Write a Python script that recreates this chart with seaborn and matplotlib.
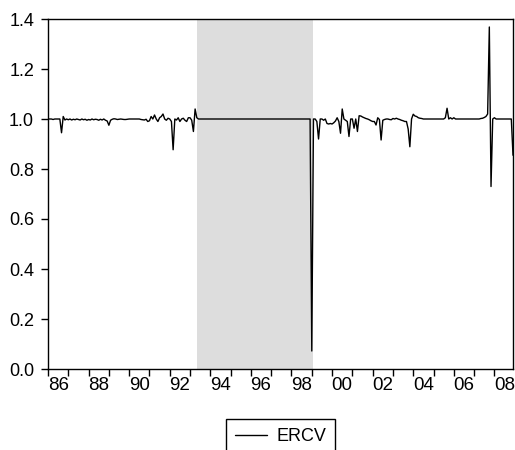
import numpy as np
import pandas as pd
import matplotlib
matplotlib.use("Agg")
import matplotlib.pyplot as plt
import seaborn as sns

# monthly ERCV values, Jan..Dec of each year
ercv_1986 = [1.000, 1.000, 1.000, 0.998, 1.000, 1.000, 1.000, 1.000, 0.945, 1.010, 0.996, 1.000]
ercv_1987 = [0.997, 1.000, 0.996, 0.999, 0.997, 1.000, 0.998, 0.996, 1.000, 0.997, 0.999, 0.995]
ercv_1988 = [0.998, 0.996, 1.000, 0.997, 0.999, 0.998, 0.995, 0.999, 0.996, 1.000, 0.995, 0.992]
ercv_1989 = [0.975, 0.995, 0.999, 1.001, 1.000, 0.998, 0.999, 1.000, 0.999, 0.998, 0.998, 0.999]
ercv_1990 = [1.000, 1.000, 1.000, 1.000, 1.000, 1.000, 1.000, 0.998, 0.997, 0.996, 0.999, 0.990]
ercv_1991 = [0.993, 1.010, 1.000, 1.016, 1.000, 0.990, 1.005, 1.010, 1.020, 1.000, 0.995, 1.003]
ercv_1992 = [1.000, 0.990, 0.877, 1.000, 0.996, 1.005, 0.990, 1.000, 1.003, 0.995, 0.990, 1.005]
ercv_1993 = [1.005, 0.995, 0.950, 1.040, 1.005, 1.000, 1.000, 1.000, 1.000, 1.000, 1.000, 1.000]
ercv_1994 = [1.000] * 12
ercv_1995 = [1.000] * 12
ercv_1996 = [1.000] * 12
ercv_1997 = [1.000] * 12
ercv_1998 = [1.000] * 12
ercv_1999 = [0.072, 1.000, 1.000, 0.990, 0.920, 1.000, 1.000, 0.995, 1.000, 0.982, 0.980, 0.982]
ercv_2000 = [0.980, 0.985, 0.992, 1.005, 0.990, 0.943, 1.040, 1.000, 0.995, 0.990, 0.930, 1.000]
ercv_2001 = [1.000, 0.963, 1.000, 0.950, 1.013, 1.012, 1.008, 1.005, 1.002, 1.000, 0.997, 0.993]
ercv_2002 = [0.990, 0.990, 0.976, 1.005, 0.998, 0.916, 0.995, 0.998, 1.000, 1.000, 0.998, 0.997]
ercv_2003 = [1.002, 1.000, 1.003, 1.000, 0.998, 0.995, 0.993, 0.990, 0.990, 0.960, 0.889, 1.000]
ercv_2004 = [1.019, 1.012, 1.010, 1.005, 1.003, 1.002, 1.000, 1.000, 1.000, 1.000, 1.000, 1.000]
ercv_2005 = [1.000, 1.000, 1.000, 1.000, 1.000, 1.000, 1.000, 1.005, 1.043, 1.000, 1.005, 1.000]
ercv_2006 = [1.005, 1.000, 1.000, 1.000, 1.000, 1.000, 1.000, 1.000, 1.000, 1.000, 1.000, 1.000]
ercv_2007 = [1.000, 1.000, 1.000, 1.000, 1.002, 1.003, 1.006, 1.010, 1.020, 1.368, 0.730, 1.000]
ercv_2008 = [1.005, 1.000, 1.000, 1.000, 1.000, 1.000, 1.000, 1.000, 1.000, 1.000, 1.000, 0.855]

years = list(range(1986, 2009))
series = [ercv_1986, ercv_1987, ercv_1988, ercv_1989, ercv_1990, ercv_1991, ercv_1992,
          ercv_1993, ercv_1994, ercv_1995, ercv_1996, ercv_1997, ercv_1998, ercv_1999,
          ercv_2000, ercv_2001, ercv_2002, ercv_2003, ercv_2004, ercv_2005, ercv_2006,
          ercv_2007, ercv_2008]

# shaded period (May 1993 - Feb 1999)
shade_start = 1993 + 4 / 12
shade_end = 1999 + 1 / 12

year_labels = ["86", "88", "90", "92", "94", "96", "98", "00", "02", "04", "06", "08"]
label_years = [1986, 1988, 1990, 1992, 1994, 1996, 1998, 2000, 2002, 2004, 2006, 2008]
y_ticks = [0.0, 0.2, 0.4, 0.6, 0.8, 1.0, 1.2, 1.4]

rows = []
for yr, vals in zip(years, series):
    for m, v in enumerate(vals):
        rows.append({"date": yr + m / 12, "ERCV": v})
df = pd.DataFrame(rows)

sns.set_style("ticks")
plt.rcParams['font.family'] = ['Liberation Sans', 'DejaVu Sans']
plt.rcParams['text.color'] = 'black'
plt.rcParams['xtick.color'] = 'black'
plt.rcParams['ytick.color'] = 'black'
plt.rcParams['xtick.labelcolor'] = 'black'
plt.rcParams['ytick.labelcolor'] = 'black'

fig = plt.figure(figsize=(5.15, 4.5), dpi=100)
ax = fig.add_axes([48 / 515, 1 - 369 / 450, 465 / 515, 350 / 450])

ax.axvspan(shade_start, shade_end, color="#dddddd", lw=0, zorder=0)
sns.lineplot(data=df, x="date", y="ERCV", color="black", lw=1.0, ax=ax, label="ERCV")

ax.set_xlim(1986, 2008 + 11 / 12)
ax.set_ylim(0, 1.4)
ax.set_xlabel("")
ax.set_ylabel("")

ax.set_xticks(years)
ax.set_xticklabels([])
ax.set_xticks([y + 0.5 for y in label_years], minor=True)
ax.set_xticklabels(year_labels, minor=True)
ax.tick_params(axis="x", which="major", length=5, width=1, color="black", direction="out")
ax.tick_params(axis="x", which="minor", length=0, pad=6, labelsize=13.5)

ax.set_yticks(y_ticks)
ax.set_yticklabels([f"{v:.1f}" for v in y_ticks])
ax.tick_params(axis="y", length=5, width=1, color="black", direction="out", labelsize=13, pad=5)

for sp in ax.spines.values():
    sp.set_visible(True)
    sp.set_color("black")
    sp.set_linewidth(1.0)

ax.get_legend().remove()
handles, labels = ax.get_legend_handles_labels()
leg = fig.legend(handles, labels, loc="upper center", bbox_to_anchor=(280.5 / 515, 1 - 419 / 450),
                 frameon=True, fancybox=False, edgecolor="black", fontsize=13,
                 handlelength=1.8, handletextpad=0.5, borderpad=0.5, borderaxespad=0,
                 framealpha=1)
leg.get_frame().set_linewidth(1.0)

fig.savefig("out.png", dpi=100)
